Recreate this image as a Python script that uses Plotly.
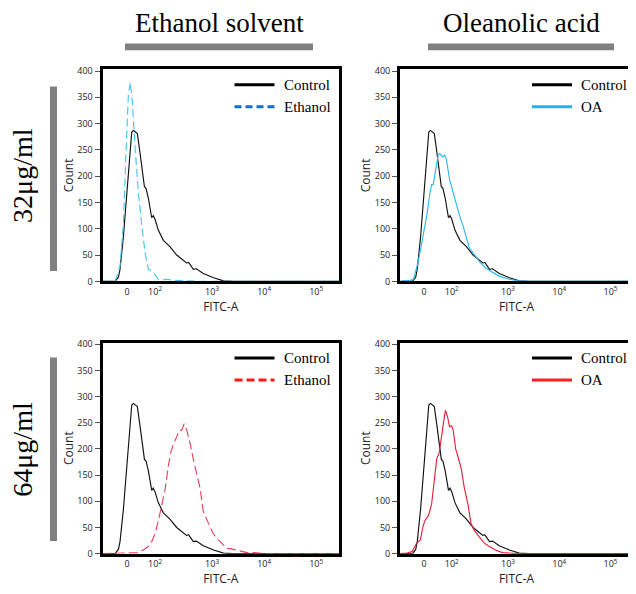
import plotly.graph_objects as go

# ---------------- data (x in display units of the biexponential FITC-A axis) ----------------
tick_pos = [1.365, 1.904, 3.0, 4.0, 5.0]
tick_text = ["0", "10<sup>2</sup>", "10<sup>3</sup>", "10<sup>4</sup>", "10<sup>5</sup>"]
count_ticks = [0, 50, 100, 150, 200, 250, 300, 350, 400]

control_x = [0.90, 1.135, 1.20, 1.231, 1.295, 1.36, 1.423, 1.456, 1.49, 1.519, 1.564, 1.615,
             1.679, 1.70, 1.731, 1.776, 1.84, 1.87, 1.904, 1.968, 2.064, 2.19, 2.32, 2.45,
             2.51, 2.55, 2.64, 2.70, 2.83, 3.03, 3.22, 3.41, 5.44]
control_y = [0, 0, 8, 23, 84, 170, 250, 284, 287, 285, 281, 244,
             195, 180, 177, 158, 121, 125, 118, 97, 78, 66, 50, 40,
             35, 36, 23, 24, 15, 7, 1, 0, 0]

eth32_x = [0.90, 1.135, 1.231, 1.295, 1.346, 1.391, 1.429, 1.468, 1.519, 1.583, 1.647, 1.712,
           1.776, 1.84, 1.904, 1.968, 2.064, 2.128, 2.256, 2.448, 2.77, 5.44]
eth32_y = [0, 0, 29, 109, 244, 355, 379, 342, 256, 170, 109, 54,
           23, 20, 12, 4, 3, 4, 2, 1, 0, 0]

oa32_x = [0.935, 1.10, 1.158, 1.235, 1.30, 1.363, 1.427, 1.479, 1.51, 1.542, 1.594, 1.638,
          1.671, 1.715, 1.767, 1.80, 1.863, 1.927, 1.99, 2.056, 2.12, 2.185, 2.248, 2.344,
          2.44, 2.57, 2.696, 2.825, 3.02, 3.21, 3.40, 5.44]
oa32_y = [1, 2, 4, 32, 63, 94, 131, 169, 184, 184, 218, 240,
          243, 237, 240, 231, 193, 169, 150, 125, 107, 82, 63, 51,
          38, 25, 17, 10, 4, 1, 0, 0]

eth64_x = [0.90, 1.295, 1.552, 1.679, 1.776, 1.84, 1.904, 1.968, 2.032, 2.096, 2.16, 2.212,
           2.256, 2.32, 2.372, 2.417, 2.462, 2.513, 2.577, 2.64, 2.705, 2.77, 2.83, 2.90,
           2.96, 3.026, 3.09, 3.186, 3.282, 3.378, 3.475, 3.57, 3.667, 3.795, 3.92, 4.05, 5.44]
eth64_y = [0, 1, 2, 7, 14, 23, 38, 63, 91, 122, 168, 196,
           208, 223, 236, 236, 248, 236, 211, 180, 155, 125, 81, 63,
           51, 38, 29, 20, 10, 9, 7, 4, 2, 2, 1, 0, 0]

oa64_x = [0.90, 1.03, 1.13, 1.22, 1.29, 1.34, 1.38, 1.45, 1.51, 1.56, 1.61, 1.66,
          1.70, 1.75, 1.78, 1.82, 1.86, 1.90, 1.93, 1.98, 2.02, 2.09, 2.15, 2.22,
          2.28, 2.34, 2.44, 2.54, 2.63, 2.76, 2.89, 3.05, 3.21, 5.44]
oa64_y = [0, 1, 4, 20, 26, 51, 63, 73, 94, 138, 181, 193,
          224, 255, 274, 262, 243, 244, 237, 200, 187, 162, 125, 94,
          57, 45, 32, 20, 14, 7, 2, 1, 0, 0]

col_titles = ["Ethanol solvent", "Oleanolic acid"]
row_titles = ["32μg/ml", "64μg/ml"]

# ---------------- geometry helpers ----------------
# the page body keeps its default 8px margin, so the figure is 8px smaller and offset
OFF = 8
W, H = 636 - OFF, 594 - OFF
def px(x):
    return (x - OFF) / W
def py(y):
    return 1 - (y - OFF) / H

col_dom = [(102.5, 339.0), (400.0, 633.0)]
row_dom = [(65.5, 281.5), (344.0, 559.0)]

panels = [
    (0, 0, [("Control", control_x, control_y, "#111111", "solid"),
            ("Ethanol", eth32_x, eth32_y, "#45C8F5", "8px,4px")],
     [("Control", "#000000", "solid"), ("Ethanol", "#1070C8", "7px,4px")]),
    (0, 1, [("Control", control_x, control_y, "#111111", "solid"),
            ("OA", oa32_x, oa32_y, "#2ABAF0", "solid")],
     [("Control", "#000000", "solid"), ("OA", "#20B4F0", "solid")]),
    (1, 0, [("Control", control_x, control_y, "#111111", "solid"),
            ("Ethanol", eth64_x, eth64_y, "#E8405E", "9px,4px")],
     [("Control", "#000000", "solid"), ("Ethanol", "#FF1A1A", "8px,4px")]),
    (1, 1, [("Control", control_x, control_y, "#111111", "solid"),
            ("OA", oa64_x, oa64_y, "#E8203C", "solid")],
     [("Control", "#000000", "solid"), ("OA", "#FF2020", "solid")]),
]

fig = go.Figure()
shapes = []
annotations = []
layout = {}

tick_font = dict(family="Open Sans", size=9, color="#222222")
title_font = dict(family="Open Sans", size=12, color="#222222")

for i, (r, c, series, leg) in enumerate(panels):
    n = i + 1
    xs = "" if n == 1 else str(n)
    xname, yname = "x" + xs, "y" + xs
    for name, xv, yv, colr, dash in series:
        fig.add_trace(go.Scatter(x=xv, y=yv, mode="lines", name=name, showlegend=False,
                                 line=dict(color=colr, width=1.15, dash=dash),
                                 xaxis=xname, yaxis=yname))
    L, R = col_dom[c]
    T, B = row_dom[r]
    layout["xaxis" + xs] = dict(
        domain=[px(L), px(R)], anchor=yname, range=[0.894, 5.44],
        tickmode="array", tickvals=tick_pos, ticktext=tick_text, ticks="",
        showgrid=False, zeroline=False, showline=True, mirror=True,
        linecolor="black", linewidth=3, tickfont=tick_font,
        title=dict(text="FITC-A", font=title_font, standoff=2))
    layout["yaxis" + xs] = dict(
        domain=[py(B), py(T)], anchor=xname, range=[0, 403],
        tickmode="array", tickvals=count_ticks, ticks="outside", ticklen=5,
        tickwidth=1, tickcolor="#555555",
        showgrid=False, zeroline=False, showline=True, mirror=True,
        linecolor="black", linewidth=3, tickfont=tick_font,
        title=dict(text="Count", font=title_font, standoff=2))
    for k, (lname, lcol, ldash) in enumerate(leg):
        yy = T + 15.5 + k * 22.5
        shapes.append(dict(type="line", xref="paper", yref="paper",
                           x0=px(L + 132), x1=px(L + 172), y0=py(yy), y1=py(yy),
                           line=dict(color=lcol, width=3, dash=ldash)))
        annotations.append(dict(text=lname, xref="paper", yref="paper",
                                x=px(L + 179), y=py(yy), xanchor="left", yanchor="middle",
                                showarrow=False,
                                font=dict(family="Liberation Serif", size=15, color="black")))

for c, (txt, bx) in enumerate(zip(col_titles, [(125, 313), (428, 614)])):
    annotations.append(dict(text=txt, xref="paper", yref="paper",
                            x=px((bx[0] + bx[1]) / 2), y=py(18), xanchor="center",
                            yanchor="middle", showarrow=False,
                            font=dict(family="Liberation Serif", size=27, color="black")))
    shapes.append(dict(type="rect", xref="paper", yref="paper", x0=px(bx[0]), x1=px(bx[1]),
                       y0=py(46), y1=py(39), fillcolor="#808080", line=dict(width=0)))

for r, (txt, by, cy) in enumerate(zip(row_titles, [(83, 271), (359, 546)], [174, 453])):
    annotations.append(dict(text=txt, xref="paper", yref="paper",
                            x=px(23), y=py(cy), xanchor="center", yanchor="middle",
                            textangle=-90, showarrow=False,
                            font=dict(family="Liberation Serif", size=28, color="black")))
    shapes.append(dict(type="rect", xref="paper", yref="paper", x0=px(50), x1=px(57),
                       y0=py(by[1]), y1=py(by[0]), fillcolor="#808080", line=dict(width=0)))

fig.update_layout(**layout)
fig.update_layout(width=W, height=H, autosize=False,
                  margin=dict(l=0, r=0, t=0, b=0),
                  font=dict(family="Open Sans", size=12, color="#222222"),
                  paper_bgcolor="white", plot_bgcolor="white",
                  showlegend=False, shapes=shapes, annotations=annotations)

fig.write_html("out.html", config={"displayModeBar": False})
